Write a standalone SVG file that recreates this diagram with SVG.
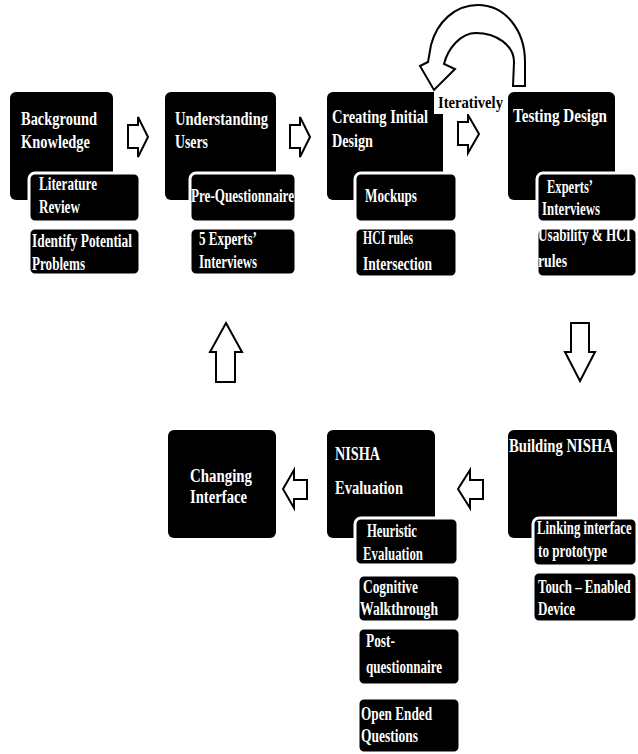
<svg xmlns="http://www.w3.org/2000/svg" width="638" height="754" viewBox="0 0 638 754">
<style>
.box{fill:#000;rx:6px;ry:6px}
.sub{fill:#000;stroke:#fff;stroke-width:3;rx:6px;ry:6px}
.t{font-family:"Liberation Serif","Times New Roman",serif;font-weight:bold;font-size:18px;fill:#fff}
.it{font-family:"Liberation Serif","Times New Roman",serif;font-weight:bold;font-size:17px;fill:#000}
.arr{fill:#fff;stroke:#000;stroke-width:2;stroke-linejoin:miter}
</style>
<rect width="638" height="754" fill="#fff"/>

<g id="background-knowledge">
<rect class="box" x="10" y="92" width="103" height="108"/>
<text class="t" x="21" y="125" textLength="76" lengthAdjust="spacingAndGlyphs">Background</text>
<text class="t" x="21" y="148" textLength="69" lengthAdjust="spacingAndGlyphs">Knowledge</text>
</g>
<g id="literature-review">
<rect class="sub" x="29" y="173" width="111" height="49"/>
<text class="t" x="39" y="190" textLength="58" lengthAdjust="spacingAndGlyphs">Literature</text>
<text class="t" x="39" y="213" textLength="41" lengthAdjust="spacingAndGlyphs">Review</text>
</g>
<g id="identify-problems">
<rect class="sub" x="29" y="228" width="111" height="47"/>
<text class="t" x="32" y="247" textLength="100" lengthAdjust="spacingAndGlyphs">Identify Potential</text>
<text class="t" x="32" y="270" textLength="53" lengthAdjust="spacingAndGlyphs">Problems</text>
</g>

<g id="understanding-users">
<rect class="box" x="165" y="92" width="111" height="108"/>
<text class="t" x="175" y="125" textLength="93" lengthAdjust="spacingAndGlyphs">Understanding</text>
<text class="t" x="175" y="148" textLength="33" lengthAdjust="spacingAndGlyphs">Users</text>
</g>
<g id="pre-questionnaire">
<rect class="sub" x="190" y="173" width="106" height="49"/>
<text class="t" x="191" y="202" textLength="103" lengthAdjust="spacingAndGlyphs">Pre-Questionnaire</text>
</g>
<g id="five-experts">
<rect class="sub" x="190" y="228" width="106" height="47"/>
<text class="t" x="199" y="245" textLength="58" lengthAdjust="spacingAndGlyphs">5 Experts’</text>
<text class="t" x="199" y="268" textLength="58" lengthAdjust="spacingAndGlyphs">Interviews</text>
</g>

<g id="creating-design">
<rect class="box" x="327" y="92" width="116" height="108"/>
<text class="t" x="332" y="123" textLength="96" lengthAdjust="spacingAndGlyphs">Creating Initial</text>
<text class="t" x="332" y="147" textLength="41" lengthAdjust="spacingAndGlyphs">Design</text>
</g>
<g id="mockups">
<rect class="sub" x="355" y="173" width="102" height="49"/>
<text class="t" x="365" y="202" textLength="52" lengthAdjust="spacingAndGlyphs">Mockups</text>
</g>
<g id="hci-intersection">
<rect class="sub" x="355" y="228" width="102" height="49"/>
<text class="t" x="363" y="244" textLength="50" lengthAdjust="spacingAndGlyphs">HCI rules</text>
<text class="t" x="363" y="270" textLength="69" lengthAdjust="spacingAndGlyphs">Intersection</text>
</g>

<g id="testing-design">
<rect class="box" x="508" y="92" width="107" height="108"/>
<text class="t" x="513" y="122" textLength="94" lengthAdjust="spacingAndGlyphs">Testing Design</text>
</g>
<g id="experts-interviews">
<rect class="sub" x="537" y="173" width="100" height="49"/>
<text class="t" x="547" y="193" textLength="46" lengthAdjust="spacingAndGlyphs">Experts’</text>
<text class="t" x="542" y="215" textLength="58" lengthAdjust="spacingAndGlyphs">Interviews</text>
</g>
<g id="usability-hci">
<rect class="sub" x="537" y="228" width="100" height="49"/>
<text class="t" transform="translate(538,241) scale(0.732,1)" x="0" y="0">Usability &amp; HCI</text>
<text class="t" x="538" y="267" textLength="29" lengthAdjust="spacingAndGlyphs">rules</text>
</g>

<g id="building-nisha">
<rect class="box" x="508" y="430" width="109" height="108"/>
<text class="t" x="509" y="452" textLength="104" lengthAdjust="spacingAndGlyphs">Building NISHA</text>
</g>
<g id="linking-interface">
<rect class="sub" x="533" y="518" width="104" height="48"/>
<text class="t" transform="translate(537,534) scale(0.71,1)" x="0" y="0">Linking interface</text>
<text class="t" x="538" y="557" textLength="69" lengthAdjust="spacingAndGlyphs">to prototype</text>
</g>
<g id="touch-device">
<rect class="sub" x="533" y="572" width="104" height="50"/>
<text class="t" transform="translate(538,593) scale(0.717,1)" x="0" y="0">Touch – Enabled</text>
<text class="t" x="538" y="615" textLength="37" lengthAdjust="spacingAndGlyphs">Device</text>
</g>

<g id="nisha-evaluation">
<rect class="box" x="327" y="430" width="108" height="108"/>
<text class="t" x="335" y="460" textLength="45" lengthAdjust="spacingAndGlyphs">NISHA</text>
<text class="t" x="335" y="494" textLength="68" lengthAdjust="spacingAndGlyphs">Evaluation</text>
</g>
<g id="heuristic-evaluation">
<rect class="sub" x="355" y="518" width="103" height="47"/>
<text class="t" x="367" y="537" textLength="50" lengthAdjust="spacingAndGlyphs">Heuristic</text>
<text class="t" x="363" y="560" textLength="60" lengthAdjust="spacingAndGlyphs">Evaluation</text>
</g>
<g id="cognitive-walkthrough">
<rect class="sub" x="358" y="575" width="102" height="47"/>
<text class="t" x="363" y="593" textLength="55" lengthAdjust="spacingAndGlyphs">Cognitive</text>
<text class="t" x="360" y="615" textLength="78" lengthAdjust="spacingAndGlyphs">Walkthrough</text>
</g>
<g id="post-questionnaire">
<rect class="sub" x="358" y="628" width="102" height="57"/>
<text class="t" x="366" y="647" textLength="29" lengthAdjust="spacingAndGlyphs">Post-</text>
<text class="t" x="366" y="673" textLength="76" lengthAdjust="spacingAndGlyphs">questionnaire</text>
</g>
<g id="open-ended">
<rect class="sub" x="358" y="698" width="102" height="55"/>
<text class="t" x="361" y="720" textLength="71" lengthAdjust="spacingAndGlyphs">Open Ended</text>
<text class="t" x="361" y="742" textLength="57" lengthAdjust="spacingAndGlyphs">Questions</text>
</g>

<g id="changing-interface">
<rect class="box" x="168" y="430" width="108" height="108"/>
<text class="t" x="190" y="482" textLength="62" lengthAdjust="spacingAndGlyphs">Changing</text>
<text class="t" x="190" y="503" textLength="57" lengthAdjust="spacingAndGlyphs">Interface</text>
</g>

<g id="connectors">
<polygon class="arr" points="128,125 138,125 138,117 148,137 138,157 138,148 128,148"/>
<polygon class="arr" points="290,125 300,125 300,117 310,137 300,157 300,148 290,148"/>
<polygon class="arr" points="458,122 468,122 468,115 479,134 468,153 468,145 458,145"/>
<path class="arr" d="M525,86 L525,62 C525,30 505,5 478,5 C455,5 437,22 431,45 L428,62 L420,66 L434,90 L455,69 L444,64 C448,48 461,33 476,33 C496,33 514,45 514,62 L513,86 Z"/>
<rect x="434" y="92" width="72" height="22" fill="#fff"/>
<text class="it" x="438" y="108" textLength="65" lengthAdjust="spacingAndGlyphs">Iteratively</text>
<polygon class="arr" points="571,323 589,323 589,352 595,352 580,381 565,352 571,352"/>
<polygon class="arr" points="483,480 470,480 470,470 458,489 470,508 470,499 483,499"/>
<polygon class="arr" points="307,480 294,480 294,470 283,489 294,508 294,499 307,499"/>
<polygon class="arr" points="226,323 242,352 235,352 235,382 216,382 216,352 210,352"/>
</g>
</svg>
